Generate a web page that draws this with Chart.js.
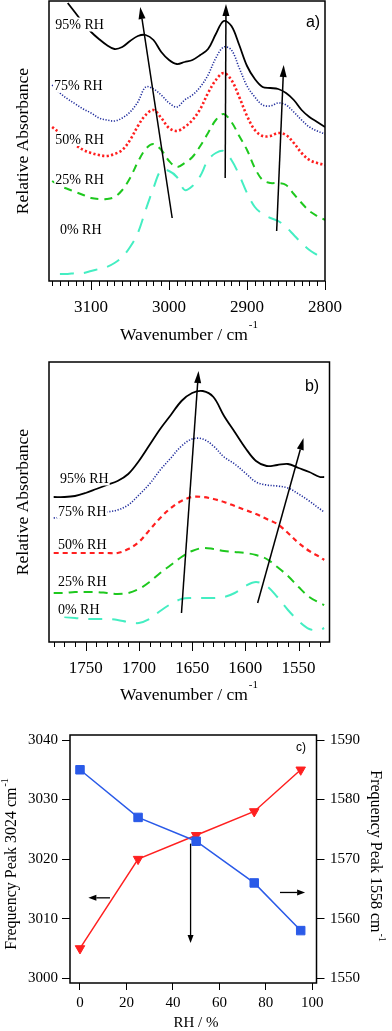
<!DOCTYPE html>
<html>
<head>
<meta charset="utf-8">
<script src="https://cdn.jsdelivr.net/npm/chart.js@4"></script>
<style>
  html, body { margin: 0; padding: 0; background: #fff; }
  #wrap { position: relative; width: 392px; height: 1031px; overflow: hidden; }
  #wrap canvas { position: absolute; left: 0; top: 0; }
</style>
</head>
<body>
<div id="wrap">
  <canvas id="chartA" width="392" height="1031"></canvas>
  <canvas id="chartB" width="392" height="1031"></canvas>
  <canvas id="chartC" width="392" height="1031"></canvas>
</div>
<script>
const serif = '"Liberation Serif", "Times New Roman", serif';
const sans = '"Liberation Sans", Arial, sans-serif';

// panel a: C-H stretch region (relative absorbance, arbitrary units)
const aWave = [3150, 3140, 3130, 3120, 3110, 3100, 3090, 3080, 3070, 3060, 3050, 3040, 3030, 3020, 3010, 3000, 2990, 2980,
               2970, 2960, 2950, 2940, 2930, 2920, 2910, 2900, 2890, 2880, 2870, 2860, 2850, 2840, 2830, 2820, 2810, 2800];
const aAbs95 = [null, null, 278, 268, 258, 249, 242, 236, 232, 234, 240, 245, 246, 241, 229, 221, 217, 219,
                221, 226, 232, 247, 260, 255, 236, 215, 202, 194, 193, 192, 188, 181, 171, 164, 159, 154];
const aAbs75 = [196, 188, 182, 177, 172, 168, 163, 161, 160, 163, 169, 179, 194, 192, 186, 178, 174, 181,
                186, 194, 206, 223, 234, 231, 213, 195, 184, 176, 175, 178, 176, 169, 161, 154, 150, 147];
const aAbs50 = [154, 148, 142, 136, 131, 128, 126, 125, 127, 131, 141, 155, 166, 171, 163, 153, 150, 154,
                161, 172, 188, 201, 208, 201, 184, 165, 151, 145, 145, 148, 146, 138, 128, 121, 118, 116];
const aAbs25 = [100, 95, 92, 89, 86, 83, 82, 82, 84, 91, 103, 119, 132, 137, 131, 120, 114, 118,
                124, 135, 148, 161, 167, 159, 145, 131, 113, 101, 98, 98, 96, 87, 78, 70, 65, 61];
const aAbs0 = [null, 7, 7, 8, 8, 10, 12, 14, 18, 24, 34, 48, 71, 93, 111, 110, 104, 91,
               95, 105, 121, 128, 130, 121, 106, 88, 74, 67, 63, 60, 54, 46, 38, 31, 26, 21];

// panel b: carboxylate / water bending region
const bWave = [1780, 1770, 1760, 1750, 1740, 1730, 1720, 1710, 1700, 1690, 1680, 1670, 1660, 1650,
               1640, 1630, 1620, 1610, 1600, 1590, 1580, 1570, 1560, 1550, 1540, 1530, 1526];
const bAbs95 = [145, 145, 146, 149, 153, 157, 161, 168, 181, 197, 213, 227, 241, 249,
                251, 245, 226, 210, 194, 181, 176, 177, 178, 174, 170, 165, 165];
const bAbs75 = [124, 125, 126, 127, 128, 130, 132, 137, 147, 158, 172, 184, 196, 203,
                203, 196, 185, 178, 169, 160, 157, 156, 154, 148, 141, 133, 130];
const bAbs50 = [89, 89, 89, 89, 89, 89, 89, 93, 100, 112, 124, 134, 141, 145,
                145, 143, 140, 136, 132, 128, 123, 118, 109, 99, 91, 85, 82];
const bAbs25 = [49, 49, 50, 50, 50, 49, 48, 49, 53, 60, 69, 77, 85, 91,
                94, 93, 91, 90, 89, 87, 83, 75, 66, 55, 45, 39, 37];
const bAbs0 = [null, 25, 24, 23, 23, 23, 22, 20, 19, 23, 31, 38, 43, 44,
               44, 44, 45, 49, 56, 60, 56, 45, 32, 21, 13, 12, 14];

const rhNames = ['95% RH', '75% RH', '50% RH', '25% RH', '0% RH'];

// panel c: peak positions vs RH
const rhValues = [0, 25, 50, 75, 95];
const peak3024 = [3005, 3020, 3024, 3028, 3035];
const peak1558 = [1585, 1577, 1573, 1566, 1558];

const pts = (xs, ys) => xs.map((x, i) => ({ x: x, y: ys[i] }));
const plain = v => String(v);

function arrow(ctx, x0, y0, x1, y1, len, half, lw) {
  const ang = Math.atan2(y1 - y0, x1 - x0);
  const bx = x1 - len * Math.cos(ang), by = y1 - len * Math.sin(ang);
  ctx.strokeStyle = '#000'; ctx.fillStyle = '#000'; ctx.lineWidth = lw;
  ctx.beginPath(); ctx.moveTo(x0, y0); ctx.lineTo(bx, by); ctx.stroke();
  ctx.beginPath(); ctx.moveTo(x1, y1);
  ctx.lineTo(bx + half * Math.sin(ang), by - half * Math.cos(ang));
  ctx.lineTo(bx - half * Math.sin(ang), by + half * Math.cos(ang));
  ctx.closePath(); ctx.fill();
}

// text with a "-1" superscript, optionally rotated
function supText(ctx, main, sup, cx, cy, rot, size, supSize, raise) {
  ctx.save();
  ctx.translate(cx, cy); ctx.rotate(rot);
  ctx.fillStyle = '#000'; ctx.textAlign = 'left'; ctx.textBaseline = 'middle';
  ctx.font = size + 'px ' + serif;
  const w = ctx.measureText(main).width;
  ctx.font = supSize + 'px ' + serif;
  const ws = sup ? ctx.measureText(sup).width + 1 : 0;
  const start = -(w + ws) / 2;
  ctx.font = size + 'px ' + serif;
  ctx.fillText(main, start, 0);
  if (sup) { ctx.font = supSize + 'px ' + serif; ctx.fillText(sup, start + w + 1, -raise); }
  ctx.restore();
}

function makeDecor(spec) {
  return {
    id: 'decor',
    afterDatasetsDraw(chart) {
      const ctx = chart.ctx, a = chart.chartArea, x = chart.scales.x;
      ctx.save();
      // curve labels on white boxes
      (spec.labels || []).forEach(l => {
        const y = chart.scales.y;
        const px = x.getPixelForValue(l[0]), py = y.getPixelForValue(l[1]);
        ctx.font = '14px ' + serif; ctx.textAlign = 'left'; ctx.textBaseline = 'middle';
        const w = ctx.measureText(l[2]).width;
        ctx.fillStyle = '#fff'; ctx.fillRect(px - 1, py - 7, w + 2, 14);
        ctx.fillStyle = '#000'; ctx.fillText(l[2], px, py + 1);
      });
      (spec.arrows || []).forEach(r => {
        const y = chart.scales[r.axis || 'y'];
        arrow(ctx, x.getPixelForValue(r.from[0]), y.getPixelForValue(r.from[1]),
              x.getPixelForValue(r.to[0]), y.getPixelForValue(r.to[1]), spec.head[0], spec.head[1], spec.head[2]);
      });
      // frame
      ctx.strokeStyle = '#000'; ctx.lineWidth = 1.5;
      ctx.strokeRect(a.left, a.top, a.right - a.left, a.bottom - a.top);
      // minor / major ticks on the wavenumber axis
      if (spec.ticks) {
        const t = spec.ticks;
        ctx.lineWidth = 1;
        for (let v = t.from; v <= t.to; v += t.step) {
          const px = Math.round(x.getPixelForValue(v)) + 0.5;
          const len = v % t.major === 0 ? 9 : 5;
          ctx.beginPath(); ctx.moveTo(px, a.bottom); ctx.lineTo(px, a.bottom + len); ctx.stroke();
        }
      }
      (spec.texts || []).forEach(t => {
        ctx.font = t.font; ctx.fillStyle = '#000'; ctx.textAlign = 'center'; ctx.textBaseline = 'middle';
        ctx.fillText(t.text, t.x, t.y);
      });
      (spec.titles || []).forEach(t => supText(ctx, t.main, t.sup, t.x, t.y, t.rot, t.size, t.supSize, t.raise));
      ctx.restore();
    }
  };
}

function spectrumChart(id, wave, series, cfg) {
  return new Chart(document.getElementById(id), {
    type: 'line',
    data: {
      datasets: series.map(s => ({
        label: s.label,
        data: pts(wave, s.values),
        borderColor: s.color,
        borderWidth: s.width,
        borderDash: s.dash,
        pointRadius: 0,
        tension: 0.35,
        fill: false
      }))
    },
    options: {
      responsive: false,
      animation: false,
      events: [],
      layout: { padding: cfg.padding },
      scales: {
        x: {
          type: 'linear', reverse: true, min: cfg.xMin, max: cfg.xMax,
          grid: { display: false, drawTicks: false },
          border: { display: false },
          ticks: { stepSize: cfg.major, includeBounds: false, autoSkip: false, maxRotation: 0, padding: 16.5,
                   color: '#000', font: { family: serif, size: 17 }, callback: plain },
          afterFit: s => { s.height = 40; }
        },
        y: { display: false, min: 0, max: 280 }
      },
      plugins: { legend: { display: false }, tooltip: { enabled: false } }
    },
    plugins: [makeDecor(cfg.decor)]
  });
}

const black = '#000000', navy = '#1f2c9c', red = '#ff1f1f', green = '#1ec81e', aqua = '#44eec2';

spectrumChart('chartA', aWave, [
  { label: rhNames[0], values: aAbs95, color: black, width: 1.8, dash: [] },
  { label: rhNames[1], values: aAbs75, color: navy, width: 1.6, dash: [1.2, 1.6] },
  { label: rhNames[2], values: aAbs50, color: red, width: 2.6, dash: [2.2, 2.3] },
  { label: rhNames[3], values: aAbs25, color: green, width: 2, dash: [8, 6] },
  { label: rhNames[4], values: aAbs0, color: aqua, width: 2, dash: [14, 10] }
], {
  xMin: 2800, xMax: 3154, major: 100,
  padding: { top: 1, left: 49, right: 67, bottom: 710 },
  decor: {
    ticks: { from: 2800, to: 3150, step: 10, major: 100 },
    labels: [[3146, 256.5, rhNames[0]], [3147.5, 195.5, rhNames[1]], [3146, 142, rhNames[2]],
             [3146, 102, rhNames[3]], [3140, 51.5, rhNames[4]]],
    arrows: [{ from: [2996, 63], to: [3037, 274] }, { from: [2928, 103], to: [2927, 277] },
             { from: [2862, 50], to: [2853, 216] }],
    head: [12, 3.5, 1.5],
    texts: [{ text: 'a)', x: 313, y: 23, font: '16px ' + sans }],
    titles: [
      { main: 'Wavenumber / cm', sup: '-1', x: 189, y: 335, rot: 0, size: 17.5, supSize: 11, raise: 10 },
      { main: 'Relative Absorbance', sup: '', x: 23, y: 141, rot: -Math.PI / 2, size: 17.5 }
    ]
  }
});

spectrumChart('chartB', bWave, [
  { label: rhNames[0], values: bAbs95, color: black, width: 1.8, dash: [] },
  { label: rhNames[1], values: bAbs75, color: navy, width: 1.6, dash: [1.2, 1.6] },
  { label: rhNames[2], values: bAbs50, color: red, width: 2.2, dash: [5, 4] },
  { label: rhNames[3], values: bAbs25, color: green, width: 2, dash: [9, 6] },
  { label: rhNames[4], values: bAbs0, color: aqua, width: 2, dash: [14, 10] }
], {
  xMin: 1521, xMax: 1784.4, major: 50,
  padding: { top: 362, left: 49, right: 62.5, bottom: 349 },
  decor: {
    ticks: { from: 1530, to: 1780, step: 10, major: 50 },
    labels: [[1774, 163.5, rhNames[0]], [1776, 130.5, rhNames[1]], [1776, 98, rhNames[2]],
             [1776, 60.5, rhNames[3]], [1776, 32.5, rhNames[4]]],
    arrows: [{ from: [1660, 29], to: [1644, 271] }, { from: [1588.5, 39], to: [1545.4, 204] }],
    head: [12, 3.5, 1.5],
    texts: [{ text: 'b)', x: 312, y: 387, font: '16px ' + sans }],
    titles: [
      { main: 'Wavenumber / cm', sup: '-1', x: 189, y: 695, rot: 0, size: 17.5, supSize: 11, raise: 10 },
      { main: 'Relative Absorbance', sup: '', x: 23, y: 502, rot: -Math.PI / 2, size: 17.5 }
    ]
  }
});

const blueC = '#2a5ae8', redC = '#ff2020';
const tickFont = { family: serif, size: 15 };

new Chart(document.getElementById('chartC'), {
  type: 'line',
  data: {
    datasets: [
      { label: 'Frequency Peak 1558', data: pts(rhValues, peak1558), yAxisID: 'y1', order: 0,
        borderColor: blueC, backgroundColor: blueC, pointBorderColor: blueC, borderWidth: 1.5,
        pointStyle: 'rect', pointRadius: 6, pointBorderWidth: 1, tension: 0 },
      { label: 'Frequency Peak 3024', data: pts(rhValues, peak3024), yAxisID: 'y', order: 1,
        borderColor: redC, backgroundColor: redC, pointBorderColor: redC, borderWidth: 1.5,
        pointStyle: 'triangle', pointRotation: 180, pointRadius: 5.5, pointBorderWidth: 1, tension: 0 }
    ]
  },
  options: {
    responsive: false,
    animation: false,
    events: [],
    layout: { padding: { top: 735, left: 0, right: 0, bottom: 18 } },
    scales: {
      x: {
        type: 'linear', min: -4.3, max: 101.8,
        grid: { drawOnChartArea: false, tickLength: 7, color: '#000' },
        border: { display: false },
        ticks: { stepSize: 20, includeBounds: false, autoSkip: false, maxRotation: 0, padding: 4, color: '#000',
                 font: tickFont, callback: plain },
        afterFit: s => { s.height = 30; }
      },
      y: {
        position: 'left', min: 2999.2, max: 3040.84,
        grid: { drawOnChartArea: false, tickLength: 8, color: '#000' },
        border: { display: false },
        ticks: { stepSize: 10, includeBounds: false, padding: 4, color: '#000', font: tickFont, callback: plain },
        afterFit: s => { s.width = 70; }
      },
      y1: {
        position: 'right', min: 1549.2, max: 1590.84,
        grid: { drawOnChartArea: false, tickLength: 8, color: '#000' },
        border: { display: false },
        ticks: { stepSize: 10, includeBounds: false, padding: 5.5, color: '#000', font: tickFont, callback: plain },
        afterFit: s => { s.width = 75.5; }
      }
    },
    plugins: { legend: { display: false }, tooltip: { enabled: false } }
  },
  plugins: [makeDecor({
    arrows: [{ from: [12.9, 3013.5], to: [3.6, 3013.5] },
             { from: [86.1, 1564.4], to: [96.9, 1564.4], axis: 'y1' },
             { from: [47.6, 3022.6], to: [47.6, 3005.9] }],
    head: [8, 3, 1.3],
    texts: [
      { text: 'c)', x: 301, y: 748, font: '12px ' + sans },
      { text: 'RH / %', x: 196, y: 1023, font: '15px ' + serif }
    ],
    titles: [
      { main: 'Frequency Peak 3024 cm', sup: '-1', x: 12, y: 864, rot: -Math.PI / 2, size: 16, supSize: 10, raise: 7 },
      { main: 'Frequency Peak 1558 cm', sup: '-1', x: 375, y: 856, rot: Math.PI / 2, size: 16, supSize: 10, raise: 7 }
    ]
  })]
});
</script>
</body>
</html>
